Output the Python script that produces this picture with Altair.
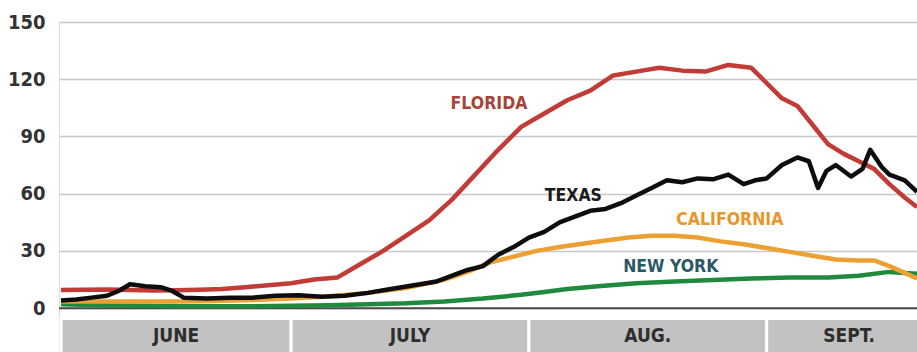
import altair as alt
import pandas as pd

# day index: 0 = June 1
fl_days = [0, 3, 6, 9, 12, 15, 18, 21, 24, 27, 30, 33, 36, 39, 42, 45, 48, 51, 54, 57, 60, 63, 66, 69, 72, 75, 78, 81, 84, 87, 90, 92, 94, 96, 98, 100, 102, 104, 106, 108, 110, 111.6]
fl_vals = [9.5, 9.6, 9.8, 9.5, 9.3, 9.4, 9.6, 10, 11, 12, 13, 15, 16, 23, 30, 38, 46, 57, 70, 83, 95, 102, 109, 114, 122, 124, 126, 124.5, 124, 127.5, 126, 118, 110, 106, 96, 86, 81, 77, 73, 65, 58, 53]

tx_days = [0, 2, 4, 6, 7.5, 9, 11, 13, 14.5, 16, 19, 22, 25, 28, 31, 34, 37, 40, 43, 46, 49, 51, 53, 55, 57, 59, 61, 63, 65, 67, 69, 71, 73, 75, 77, 79, 81, 83, 85, 87, 89, 90.5, 92, 94, 96, 97.5, 98.7, 99.8, 101, 103, 104.5, 105.5, 107, 108, 110, 111.6]
tx_vals = [4, 4.5, 5.5, 6.5, 9, 12.5, 11.5, 11, 9, 5.5, 5, 5.5, 5.5, 6.5, 6.8, 6, 6.5, 8, 10, 12, 14, 17, 20, 22, 28, 32, 37, 40, 45, 48, 51, 52, 55, 59, 63, 67, 66, 68, 67.5, 70, 65, 67, 68, 75, 79, 77, 63, 72, 75, 69, 73, 83, 74, 70, 67, 61]

ca_days = [0, 5, 10, 15, 20, 25, 30, 35, 40, 45, 50, 53, 56, 59, 62, 65, 68, 71, 74, 77, 80, 83, 86, 89, 92, 95, 98, 101, 104, 106, 108, 110, 111.6]
ca_vals = [3.5, 3.5, 3.5, 3.5, 3.8, 4.2, 5, 6.2, 8, 10.5, 15, 19, 24, 27, 30, 32, 33.8, 35.5, 37, 38, 38, 37, 35, 33.5, 31.5, 29.5, 27.5, 25.5, 25, 25, 22, 18.5, 15.5]

ny_days = [0, 5, 10, 15, 20, 25, 30, 35, 40, 45, 50, 55, 60, 63, 66, 70, 75, 80, 85, 90, 95, 100, 104, 108, 111.6]
ny_vals = [2, 1.5, 1.2, 1, 1, 1, 1.2, 1.5, 2, 2.5, 3.5, 5, 7, 8.5, 10, 11.5, 13, 14, 14.8, 15.5, 16, 16, 17, 19, 18]

labels = ["FLORIDA", "TEXAS", "CALIFORNIA", "NEW YORK"]
label_days = [55.8, 66.8, 87.2, 79.5]
label_vals = [107, 59, 46, 21.5]
label_colors = ["#a8433a", "#1a1a1a", "#e8962a", "#2c5866"]

months = ["JUNE", "JULY", "AUG.", "SEPT."]
month_start = [0, 30, 61, 92]
month_end = [30, 61, 92, 113.5]

y_ticks = [0, 30, 60, 90, 120, 150]

FONT = "Liberation Sans Narrow, DejaVu Sans Condensed, Roboto, sans-serif"

x_scale = alt.Scale(domain=[-0.26, 111.6], nice=False, zero=False)
y_scale = alt.Scale(domain=[-23, 150], nice=False, zero=False)


def series(days, vals, color, width=4.5):
    df = pd.DataFrame({"day": days, "value": vals})
    return alt.Chart(df).mark_line(color=color, strokeWidth=width, strokeJoin="round").encode(
        x=alt.X("day:Q", scale=x_scale, axis=None),
        y=alt.Y("value:Q", scale=y_scale),
    )


axis_layer = alt.Chart(pd.DataFrame({"v": [0]})).mark_rule(color="#4a4a4a", strokeWidth=2).encode(
    y=alt.Y("v:Q", scale=y_scale,
            axis=alt.Axis(values=y_ticks, title=None, grid=True, gridColor="#c8c8c8",
                          gridWidth=1.5, ticks=False, domain=False, labelPadding=14,
                          labelFont=FONT, labelFontSize=20, labelFontWeight="bold",
                          labelColor="#333333")),
    x=alt.value(0), x2=alt.value(858),
)

month_df = pd.DataFrame({"m": months, "s": month_start, "e": month_end})
month_df["mid"] = (month_df["s"] + month_df["e"]) / 2
boxes = alt.Chart(month_df).mark_rect(color="#c2c2c2", stroke="white", strokeWidth=3).encode(
    x=alt.X("s:Q", scale=x_scale, axis=None), x2="e:Q",
    y=alt.datum(-5.4), y2=alt.datum(-40),
)
month_text = alt.Chart(month_df).mark_text(font=FONT, fontSize=19, fontWeight="bold",
                                           color="#2e2e2e", baseline="middle").encode(
    x=alt.X("mid:Q", scale=x_scale, axis=None),
    y=alt.datum(-14.5),
    text="m:N",
)

lab_df = pd.DataFrame({"t": labels, "d": label_days, "v": label_vals, "c": label_colors})
lab_text = alt.Chart(lab_df).mark_text(font=FONT, fontSize=17.5, fontWeight="bold",
                                       baseline="middle").encode(
    x=alt.X("d:Q", scale=x_scale, axis=None),
    y=alt.Y("v:Q", scale=y_scale),
    text="t:N",
    color=alt.Color("c:N", scale=None),
)

chart = alt.layer(
    axis_layer,
    boxes,
    month_text,
    series(ny_days, ny_vals, "#1f8a3e"),
    series(ca_days, ca_vals, "#eda032"),
    series(fl_days, fl_vals, "#c23b36"),
    series(tx_days, tx_vals, "#0d0d0d"),
    lab_text,
).properties(
    width=858, height=330,
    padding={"left": 59, "top": 22, "right": 0, "bottom": 0},
    autosize=alt.AutoSizeParams(type="none"),
).configure_view(stroke=None, clip=False).configure(background="white")

chart.save("out.html", embed_options={"renderer": "svg", "actions": False})
